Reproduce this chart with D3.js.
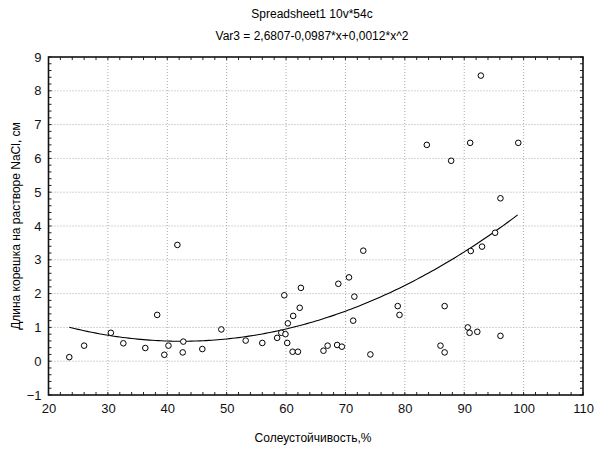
<!DOCTYPE html>
<html><head><meta charset="utf-8">
<script src="https://cdn.jsdelivr.net/npm/d3@7"></script>
<style>
html,body{margin:0;padding:0;background:#fff;}
svg{display:block;font-family:"Liberation Sans",Arial,sans-serif;}
</style></head>
<body>
<svg id="c" width="603" height="453"></svg>
<script>
const titleLines = ["Spreadsheet1 10v*54c", "Var3 = 2,6807-0,0987*x+0,0012*x^2"];
const xLabel = "Солеустойчивость,%";
const yLabel = "Длина корешка на растворе NaCl, см";
const xTicks = [20,30,40,50,60,70,80,90,100,110];
const yTicks = [-1,0,1,2,3,4,5,6,7,8,9];
const xValues = [23.5,26.0,30.5,32.6,36.3,38.3,39.5,40.2,41.7,42.6,42.7,45.9,49.1,53.2,56.0,58.5,59.2,59.7,59.9,60.2,60.3,61.1,61.2,62.0,62.3,62.5,66.3,67.0,68.6,69.4,68.8,70.6,71.5,71.3,73.0,74.2,78.8,79.1,86.0,86.7,86.7,92.8,83.7,91.0,99.1,87.8,96.1,95.2,93.0,91.1,90.6,90.9,92.2,96.1];
const yValues = [0.12,0.46,0.84,0.53,0.39,1.37,0.19,0.46,3.44,0.26,0.58,0.36,0.94,0.61,0.54,0.69,0.84,1.95,0.80,0.54,1.12,0.28,1.34,0.28,1.58,2.17,0.31,0.46,0.48,0.43,2.29,2.48,1.91,1.20,3.27,0.20,1.63,1.37,0.46,1.63,0.26,8.45,6.40,6.46,6.46,5.93,4.82,3.80,3.39,3.26,1.00,0.84,0.87,0.75];
const fitCoef = [2.6807, -0.0987, 0.001165];

const svg = d3.select("#c");
const L = 48.5, R = 583, T = 57, B = 395;
const x = d3.scaleLinear().domain([20,110]).range([L,R]);
const y = d3.scaleLinear().domain([-1,9]).range([B,T]);

// titles
svg.append("text").attr("x",312).attr("y",18).attr("text-anchor","middle")
  .attr("font-size",12).text(titleLines[0]);
svg.append("text").attr("x",312).attr("y",40).attr("text-anchor","middle")
  .attr("font-size",12).text(titleLines[1]);

// grid
const g = svg.append("g");
g.selectAll(".gx").data(xTicks.slice(1,-1)).join("line")
  .attr("x1",d=>x(d)).attr("x2",d=>x(d)).attr("y1",T).attr("y2",B)
  .attr("stroke","#a8a8a8").attr("stroke-width",1).attr("stroke-dasharray","1,2");
g.selectAll(".gy").data(yTicks.slice(1,-1)).join("line")
  .attr("y1",d=>y(d)).attr("y2",d=>y(d)).attr("x1",L).attr("x2",R)
  .attr("stroke","#a8a8a8").attr("stroke-width",1).attr("stroke-dasharray","1,2");

// minor ticks (inward)
const xMinor = d3.range(20,110.01,2);
const yMinor = d3.range(-1,9.001,0.2);
const tk = svg.append("g").attr("stroke","#222").attr("stroke-width",1);
xMinor.forEach(v=>{
  tk.append("line").attr("x1",x(v)).attr("x2",x(v)).attr("y1",B).attr("y2",B-3);
  tk.append("line").attr("x1",x(v)).attr("x2",x(v)).attr("y1",T).attr("y2",T+3);
});
yMinor.forEach(v=>{
  tk.append("line").attr("y1",y(v)).attr("y2",y(v)).attr("x1",L).attr("x2",L+3);
  tk.append("line").attr("y1",y(v)).attr("y2",y(v)).attr("x1",R).attr("x2",R-3);
});

// frame
svg.append("rect").attr("x",L).attr("y",T).attr("width",R-L).attr("height",B-T)
  .attr("fill","none").attr("stroke","#111").attr("stroke-width",1.6);

// axes labels
const xa = svg.append("g").attr("transform",`translate(0,${B})`)
  .call(d3.axisBottom(x).tickValues(xTicks).tickSize(0).tickPadding(9).tickFormat(d3.format("d")));
xa.select(".domain").remove();
xa.selectAll("text").attr("font-size",13).attr("font-family","Liberation Sans, Arial, sans-serif").attr("fill","#111");
const ya = svg.append("g").attr("transform",`translate(${L},0)`)
  .call(d3.axisLeft(y).tickValues(yTicks).tickSize(0).tickPadding(7).tickFormat(d3.format("d")));
ya.select(".domain").remove();
ya.selectAll("text").attr("font-size",13).attr("font-family","Liberation Sans, Arial, sans-serif").attr("fill","#111");

svg.append("text").attr("x",313).attr("y",442).attr("text-anchor","middle")
  .attr("font-size",12).text(xLabel);
svg.append("text").attr("transform","translate(20,226) rotate(-90)").attr("text-anchor","middle")
  .attr("font-size",12).text(yLabel);

// fit curve
const fx = d3.range(d3.min(xValues), d3.max(xValues)+0.001, 0.5);
const line = d3.line().x(d=>x(d)).y(d=>y(fitCoef[0]+fitCoef[1]*d+fitCoef[2]*d*d));
svg.append("path").datum(fx).attr("d",line).attr("fill","none").attr("stroke","#000").attr("stroke-width",1.1);

// points
svg.append("g").selectAll("circle").data(xValues).join("circle")
  .attr("cx",(d)=>x(d)).attr("cy",(d,i)=>y(yValues[i])).attr("r",2.8)
  .attr("fill","#fff").attr("stroke","#000").attr("stroke-width",1);
</script>
</body></html>
